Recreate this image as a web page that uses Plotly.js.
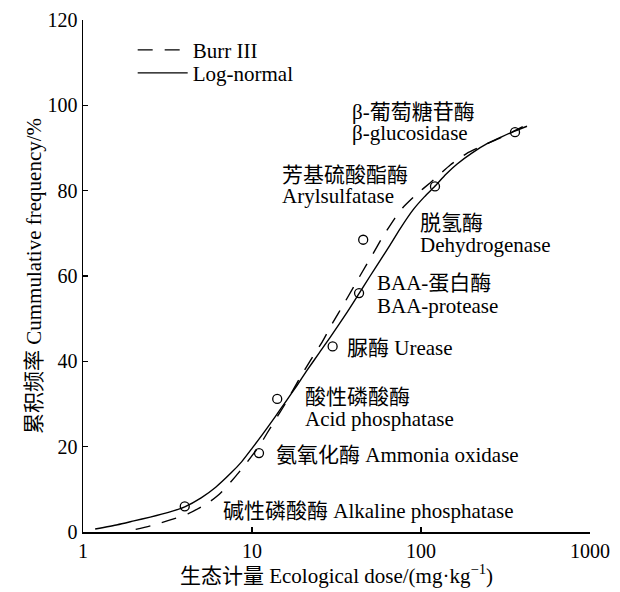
<!DOCTYPE html>
<html>
<head>
<meta charset="utf-8">
<script src="https://cdn.plot.ly/plotly-3.0.1.min.js"></script>
<style>html,body{margin:0;padding:0;background:#fff;}#chart{width:620px;height:592px;}</style>
</head>
<body>
<div id="chart"></div>
<script>
// Log-normal fitted curve (solid)
const logNormalX = [1.18, 1.6, 2.0, 2.5, 3.2, 4.0, 5.0, 6.1, 7.5, 8.7, 10, 11.6, 13.7, 16, 18.5, 21.1, 25, 29, 36.5, 42.4, 50, 57, 65, 75, 89.7, 105, 122, 140, 163, 200, 246, 300, 350, 424];
const logNormalY = [0.7, 1.7, 2.6, 3.5, 4.6, 5.9, 8.0, 10.5, 13.8, 16.5, 19.6, 23, 27, 30.8, 34.4, 37.8, 42, 45.6, 51.5, 55.5, 60, 63.5, 67, 71, 75.5, 78.6, 81.2, 83.8, 86.2, 88.8, 91, 92.6, 93.8, 95.1];
// Burr III fitted curve (dashed)
const burrX = [2.05, 2.6, 3.4, 4.2, 5.5, 6.5, 7.9, 9.2, 11.1, 12.3, 14.2, 15.7, 19, 22, 26, 30, 35, 40, 45, 52, 59, 70, 78, 95, 113, 124, 149, 186, 246, 292, 400];
const burrY = [0.6, 1.6, 3.0, 4.3, 6.8, 9.1, 12.8, 16, 20.3, 23.2, 27.2, 30, 35.8, 40, 44.5, 49, 53.5, 57.5, 61, 65.2, 69, 73.5, 76, 79.3, 81.8, 83.2, 86, 88.7, 91, 92.3, 95];
// Observed enzyme ecological doses (open circles)
const pointX = [4.0, 11.0, 14.1, 30, 43, 45.5, 121, 360];
const pointY = [6, 18.5, 31.2, 43.5, 56, 68.5, 81, 93.7];
// Tick labels
const xTickVals = [1, 10, 100, 1000];
const xTickText = ["1", "10", "100", "1000"];
const yTickVals = [0, 20, 40, 60, 80, 100, 120];
// Enzyme labels
const labelTexts = [
  "β-葡萄糖苷酶", "β-glucosidase",
  "芳基硫酸酯酶", "Arylsulfatase",
  "脱氢酶", "Dehydrogenase",
  "BAA-蛋白酶", "BAA-protease",
  "脲酶 Urease",
  "酸性磷酸酶", "Acid phosphatase",
  "氨氧化酶 Ammonia oxidase",
  "碱性磷酸酶 Alkaline phosphatase"
];
const seriesNames = ["Burr III", "Log-normal"];

const FONT = "'Liberation Serif', 'Times New Roman', 'Noto Sans CJK SC', serif";

// label placement (log10 x, y) in layout only
const labelPos = [
  [1.580, 98.4], [1.580, 93.5],
  [1.166, 83.7], [1.166, 78.7],
  [1.982, 72.4], [1.982, 67.3],
  [1.728, 58.4], [1.728, 53.0],
  [1.550, 43.1],
  [1.302, 31.6], [1.302, 26.5],
  [1.130, 18.0],
  [0.816, 4.9]
];
const annotations = labelTexts.map((t, i) => ({
  text: t, x: labelPos[i][0], y: labelPos[i][1], xref: 'x', yref: 'y',
  xanchor: 'left', yanchor: 'middle', showarrow: false,
  font: {family: FONT, size: 21, color: '#000'}
}));

const traces = [
  {x: burrX, y: burrY, mode: 'lines', name: seriesNames[0], legend: 'legend',
   line: {color: '#000', width: 1.4, dash: '15px,12px', shape: 'spline', smoothing: 0.5}},
  {x: logNormalX, y: logNormalY, mode: 'lines', name: seriesNames[1], legend: 'legend2',
   line: {color: '#000', width: 1.4, shape: 'spline', smoothing: 0.5}},
  {x: pointX, y: pointY, mode: 'markers', showlegend: false,
   marker: {symbol: 'circle-open', size: 9, color: '#000', line: {width: 1.3, color: '#000'}}}
];

const legendStyle = (y) => ({
  x: 0.098, y: y, xanchor: 'left', yanchor: 'middle', bgcolor: 'rgba(0,0,0,0)',
  font: {family: FONT, size: 21, color: '#000'}, itemwidth: 50
});

const layout = {
  width: 620, height: 592,
  margin: {l: 83, r: 30, t: 20, b: 60},
  paper_bgcolor: '#fff', plot_bgcolor: '#fff',
  font: {family: FONT, size: 20, color: '#000'},
  showlegend: true,
  legend: legendStyle(0.941),
  legend2: legendStyle(0.896),
  xaxis: {
    type: 'log', range: [0, 3], tickvals: xTickVals, ticktext: xTickText,
    ticks: 'inside', ticklen: 5, tickwidth: 1.2, tickcolor: '#000',
    showline: true, linecolor: '#000', linewidth: 1.5, showgrid: false, zeroline: false,
    tickfont: {family: FONT, size: 20, color: '#000'},
    title: {text: '生态计量 Ecological dose/(mg·kg<sup>−1</sup>)', font: {family: FONT, size: 21, color: '#000'}, standoff: 6}
  },
  yaxis: {
    range: [0, 120], tickvals: yTickVals,
    ticks: 'inside', ticklen: 5, tickwidth: 1.2, tickcolor: '#000',
    showline: true, linecolor: '#000', linewidth: 1.5, showgrid: false, zeroline: false,
    tickfont: {family: FONT, size: 20, color: '#000'},
    title: {text: '累积频率 Cummulative frequency/%', font: {family: FONT, size: 21, color: '#000'}, standoff: 0}
  },
  annotations: annotations
};

Plotly.newPlot('chart', traces, layout, {displayModeBar: false, staticPlot: true});
</script>
</body>
</html>
